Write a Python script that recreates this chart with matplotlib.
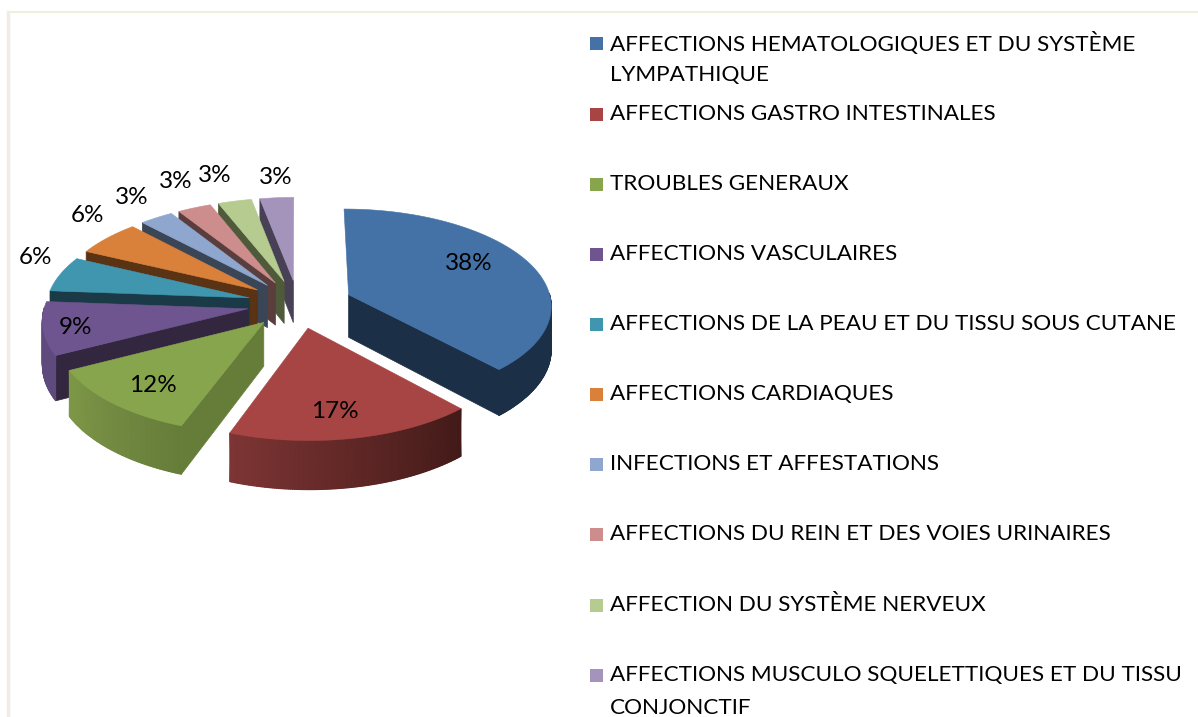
import numpy as np
import matplotlib
matplotlib.use("Agg")
import matplotlib.pyplot as plt
from matplotlib.colors import LinearSegmentedColormap
from matplotlib.patches import Rectangle

# =========================
# DATA
# =========================

categories = [
    "AFFECTIONS HEMATOLOGIQUES ET DU SYSTÈME\nLYMPATHIQUE",
    "AFFECTIONS GASTRO INTESTINALES",
    "TROUBLES GENERAUX",
    "AFFECTIONS VASCULAIRES",
    "AFFECTIONS DE LA PEAU ET DU TISSU SOUS CUTANE",
    "AFFECTIONS CARDIAQUES",
    "INFECTIONS ET AFFESTATIONS",
    "AFFECTIONS DU REIN ET DES VOIES URINAIRES",
    "AFFECTION DU SYSTÈME NERVEUX",
    "AFFECTIONS MUSCULO SQUELETTIQUES ET DU TISSU\nCONJONCTIF",
]
percent = [38.2, 17.4, 11.8, 8.8, 5.9, 5.9, 3.0, 3.0, 3.0, 3.0]

# =========================
# STYLE
# =========================

top_colors = ["#4472A6", "#A64543", "#87A54D", "#6E5590", "#3F96AE",
              "#D9803A", "#8FA7CE", "#CD8D8C", "#B5CB90", "#A494BC"]
wall_colors = ["#1B2F47", "#421A18", "#667D3A", "#33263F", "#1A3A47",
               "#5A3214", "#3A4656", "#5A3D3D", "#4E5A3A", "#484155"]
rim_left = ["#1B2F47", "#7D3534", "#7E9848", "#5E4A7C", "#1A3A47",
            "#5A3214", "#3A4656", "#5A3D3D", "#4E5A3A", "#484155"]
rim_right = ["#1B2F47", "#421A18", "#667D3A", "#5E4A7C", "#1A3A47",
             "#5A3214", "#3A4656", "#5A3D3D", "#4E5A3A", "#484155"]
explode = [0.27, 0.25, 0.25, 0.25, 0.25, 0.25, 0.25, 0.25, 0.25, 0.25]

label_pos = [(469, 264), (335, 412), (153, 386), (75, 328), (36, 258),
             (88, 216), (132, 198), (176, 181), (215, 176), (276, 178)]
legend_y = [43, 114, 184, 254, 324, 394, 464, 534, 605, 675]

FONT = "Lato"
CX, CY = 298, 304      # pie centre
RX, RY = 203, 96       # radii
PERSP = 0.1            # the front of the pie is a bit bigger
DEPTH = 43


def project(x, y):
    f = 1 / (1 + PERSP * y)
    return CX + RX * x * f, CY - RY * y * f, f


# =========================
# FIGURE
# =========================

fig = plt.figure(figsize=(11.98, 7.17), dpi=100)
ax = fig.add_axes([0, 0, 1, 1])
ax.set_xlim(0, 1198)
ax.set_ylim(717, 0)
ax.axis("off")

ax.plot([1198, 8], [12, 12], color="#EEF0DC", lw=1.5, zorder=1)
ax.plot([8, 8], [12, 717], color="#F0EDE6", lw=2.5, zorder=1)

# =========================
# PIE SLICES
# =========================

edges = np.cumsum([0] + percent) / sum(percent) * 360

# back slices first, blue is apart from the others
for i in [9, 8, 7, 6, 5, 4, 3, 2, 1, 0]:
    start, end = edges[i], edges[i + 1]
    mid = np.radians((start + end) / 2)
    ox = explode[i] * np.sin(mid)
    oy = explode[i] * np.cos(mid)

    theta = np.radians(np.linspace(start, end, int(end - start) * 2 + 2))
    px, py, f = project(ox + np.sin(theta), oy + np.cos(theta))
    cx, cy, cf = project(ox, oy)
    low = py + DEPTH * f
    clow = cy + DEPTH * cf

    # walls, only the ones turned to the viewer
    if np.sin(np.radians(start)) < -1e-6:
        ax.fill([cx, px[0], px[0], cx], [cy, py[0], low[0], clow],
                color=wall_colors[i], lw=0.5, zorder=2)
    if np.sin(np.radians(end)) > 1e-6:
        ax.fill([cx, px[-1], px[-1], cx], [cy, py[-1], low[-1], clow],
                color=wall_colors[i], lw=0.5, zorder=2)

    # outer rim, the front part only
    front = np.cos(theta) <= 0.02
    if front.sum() > 1:
        xs = np.vstack([px[front], px[front]])
        ys = np.vstack([py[front], low[front]])
        shade = np.linspace(0, 1, front.sum())
        shade = np.vstack([shade, shade])
        cmap = LinearSegmentedColormap.from_list("rim", [rim_right[i], rim_left[i]])
        ax.pcolormesh(xs, ys, shade, shading="gouraud", cmap=cmap, vmin=0, vmax=1, zorder=2)

    ax.fill(np.r_[cx, px], np.r_[cy, py], color=top_colors[i], lw=0.4, zorder=2)

# =========================
# LABELS
# =========================

for value, (x, y) in zip(percent, label_pos):
    ax.text(x, y, f"{value:.0f}%", fontsize=17.5, family=FONT, color="black",
            ha="center", va="center", zorder=3)

# =========================
# LEGEND
# =========================

for i, name in enumerate(categories):
    y = legend_y[i]
    ax.add_patch(Rectangle((590, y - 6), 13, 13, color=top_colors[i], lw=0, zorder=3))
    for j, line in enumerate(name.split("\n")):
        ax.text(610, y + j * 32.5, line, fontsize=16.2, family=FONT, color="black",
                ha="left", va="center", zorder=3)

fig.savefig("out.png", dpi=100, facecolor="white")
